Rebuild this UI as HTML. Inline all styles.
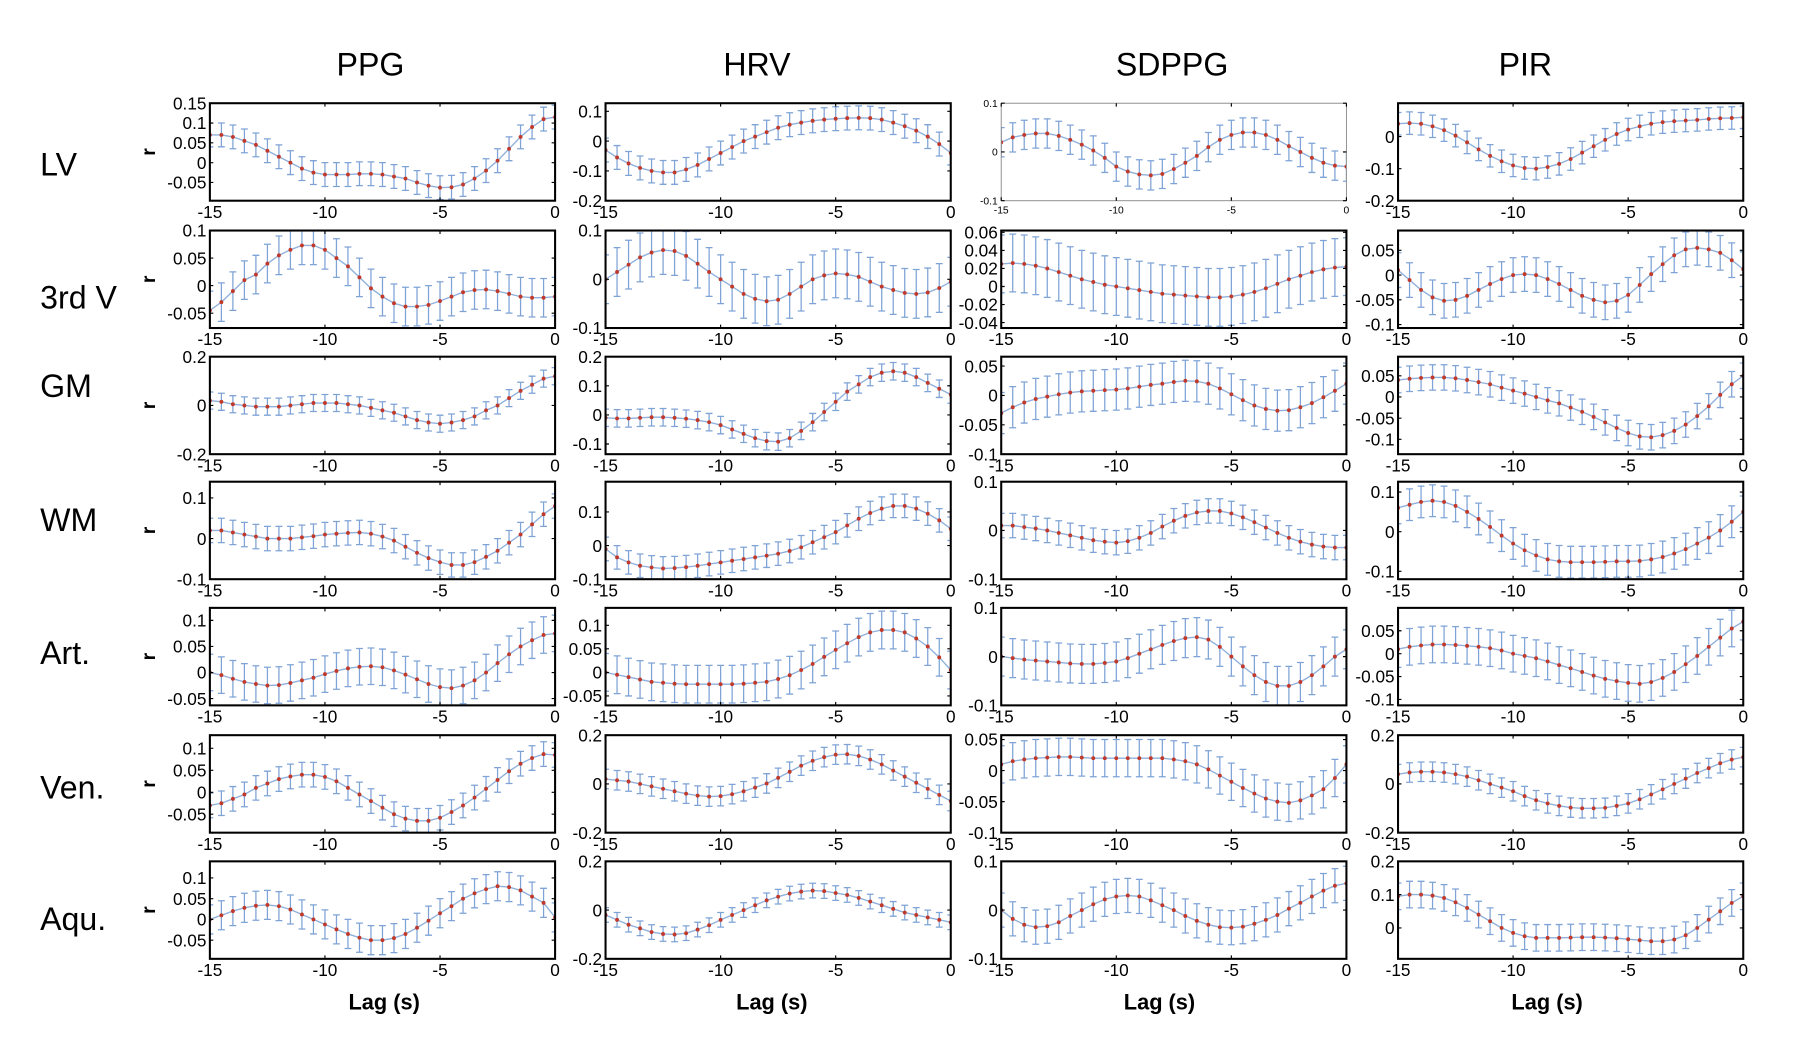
<!DOCTYPE html>
<html><head><meta charset="utf-8">
<style>
html,body{margin:0;padding:0;background:#fff;}
svg{display:block;}
text{font-family:"Liberation Sans",Arial,sans-serif;fill:#000;}
</style></head>
<body>
<svg id="fig" width="1796" height="1046" viewBox="0 0 1566 912" preserveAspectRatio="none" xmlns="http://www.w3.org/2000/svg"></svg>
<script>
const columns = ["PPG","HRV","SDPPG","PIR"];
const rows = ["LV","3rd V","GM","WM","Art.","Ven.","Aqu."];
const lagTicks = [-15,-10,-5,0];
const lags = [-15,-14.5,-14,-13.5,-13,-12.5,-12,-11.5,-11,-10.5,-10,-9.5,-9,-8.5,-8,-7.5,-7,-6.5,-6,-5.5,-5,-4.5,-4,-3.5,-3,-2.5,-2,-1.5,-1,-0.5,0];

const yRangePPG = [[-0.096,0.15],[-0.077,0.1],[-0.2,0.2],[-0.1,0.14],[-0.063,0.124],[-0.092,0.13],[-0.095,0.14]];
const yRangeHRV = [[-0.2,0.127],[-0.1,0.1],[-0.135,0.2],[-0.1,0.19],[-0.07,0.137],[-0.2,0.2],[-0.2,0.2]];
const yRangeSDPPG = [[-0.1,0.1],[-0.046,0.062],[-0.1,0.066],[-0.1,0.1],[-0.1,0.1],[-0.1,0.057],[-0.1,0.1]];
const yRangePIR = [[-0.2,0.104],[-0.107,0.09],[-0.135,0.095],[-0.12,0.126],[-0.113,0.1],[-0.2,0.2],[-0.093,0.2]];

const yTicksPPG = [[0.15,0.1,0.05,0,-0.05],[0.1,0.05,0,-0.05],[0.2,0,-0.2],[0.1,0,-0.1],[0.1,0.05,0,-0.05],[0.1,0.05,0,-0.05],[0.1,0.05,0,-0.05]];
const yTicksHRV = [[0.1,0,-0.1,-0.2],[0.1,0,-0.1],[0.2,0.1,0,-0.1],[0.1,0,-0.1],[0.1,0.05,0,-0.05],[0.2,0,-0.2],[0.2,0,-0.2]];
const yTicksSDPPG = [[0.1,0,-0.1],[0.06,0.04,0.02,0,-0.02,-0.04],[0.05,0,-0.05,-0.1],[0.1,0,-0.1],[0.1,0,-0.1],[0.05,0,-0.05,-0.1],[0.1,0,-0.1]];
const yTicksPIR = [[0,-0.1,-0.2],[0.05,0,-0.05,-0.1],[0.05,0,-0.05,-0.1],[0.1,0,-0.1],[0.05,0,-0.05,-0.1],[0.2,0,-0.2],[0.2,0.1,0]];

const ppgMeans = [
[0.07,0.07,0.065,0.055,0.045,0.03,0.015,0,-0.015,-0.025,-0.03,-0.03,-0.03,-0.028,-0.028,-0.03,-0.035,-0.04,-0.05,-0.058,-0.063,-0.062,-0.055,-0.04,-0.02,0.005,0.035,0.065,0.09,0.11,0.115],
[-0.045,-0.03,-0.01,0.01,0.02,0.04,0.055,0.065,0.073,0.073,0.065,0.05,0.035,0.015,-0.005,-0.02,-0.032,-0.038,-0.038,-0.035,-0.028,-0.02,-0.012,-0.008,-0.007,-0.01,-0.015,-0.02,-0.022,-0.022,-0.02],
[0.02,0.015,0.005,0,-0.005,-0.005,-0.005,0,0.005,0.01,0.01,0.01,0.005,0,-0.01,-0.02,-0.03,-0.045,-0.06,-0.07,-0.075,-0.07,-0.06,-0.045,-0.02,0,0.03,0.06,0.085,0.11,0.12],
[0.02,0.02,0.015,0.01,0.005,0,0,0,0.003,0.006,0.01,0.012,0.014,0.015,0.012,0.005,-0.005,-0.02,-0.035,-0.048,-0.058,-0.065,-0.065,-0.058,-0.045,-0.03,-0.01,0.01,0.035,0.06,0.08],
[0,-0.005,-0.012,-0.018,-0.022,-0.025,-0.024,-0.02,-0.015,-0.01,-0.003,0.003,0.008,0.011,0.012,0.01,0.004,-0.004,-0.013,-0.022,-0.028,-0.03,-0.025,-0.015,0,0.018,0.035,0.05,0.062,0.072,0.075],
[-0.03,-0.025,-0.015,-0.005,0.01,0.02,0.03,0.036,0.04,0.04,0.035,0.025,0.01,-0.005,-0.02,-0.035,-0.05,-0.06,-0.065,-0.065,-0.058,-0.045,-0.03,-0.012,0.008,0.028,0.048,0.065,0.078,0.087,0.085],
[0,0.01,0.02,0.028,0.033,0.035,0.032,0.024,0.012,0,-0.012,-0.024,-0.035,-0.044,-0.05,-0.05,-0.045,-0.035,-0.02,-0.003,0.015,0.032,0.05,0.063,0.073,0.08,0.078,0.07,0.055,0.04,0.005]];
const hrvMeans = [
[-0.03,-0.055,-0.075,-0.09,-0.1,-0.105,-0.105,-0.095,-0.08,-0.06,-0.04,-0.02,0,0.015,0.03,0.045,0.055,0.062,0.068,0.072,0.075,0.077,0.078,0.077,0.072,0.062,0.05,0.035,0.015,-0.01,-0.04],
[0,0.015,0.03,0.045,0.055,0.06,0.058,0.048,0.032,0.015,0,-0.015,-0.03,-0.04,-0.045,-0.042,-0.03,-0.015,0,0.008,0.012,0.01,0.005,-0.005,-0.015,-0.022,-0.028,-0.03,-0.027,-0.018,-0.005],
[-0.01,-0.012,-0.012,-0.01,-0.008,-0.008,-0.01,-0.013,-0.018,-0.025,-0.035,-0.05,-0.065,-0.08,-0.09,-0.092,-0.08,-0.055,-0.025,0.01,0.045,0.08,0.105,0.13,0.145,0.15,0.145,0.13,0.11,0.09,0.07],
[-0.01,-0.035,-0.05,-0.06,-0.065,-0.068,-0.067,-0.064,-0.06,-0.055,-0.05,-0.045,-0.04,-0.035,-0.03,-0.024,-0.016,-0.005,0.01,0.025,0.04,0.06,0.08,0.097,0.11,0.118,0.118,0.11,0.095,0.075,0.05],
[0,-0.005,-0.01,-0.015,-0.02,-0.022,-0.024,-0.025,-0.025,-0.025,-0.025,-0.025,-0.024,-0.022,-0.02,-0.014,-0.006,0.005,0.018,0.033,0.048,0.062,0.075,0.085,0.09,0.09,0.085,0.072,0.055,0.032,0.005],
[0.02,0.015,0.01,0,-0.01,-0.02,-0.03,-0.04,-0.048,-0.052,-0.05,-0.042,-0.03,-0.015,0.002,0.025,0.05,0.075,0.095,0.11,0.12,0.122,0.115,0.1,0.08,0.055,0.03,0.005,-0.02,-0.045,-0.07],
[-0.02,-0.04,-0.06,-0.075,-0.09,-0.098,-0.1,-0.095,-0.08,-0.062,-0.04,-0.02,0,0.02,0.04,0.055,0.068,0.076,0.08,0.078,0.07,0.062,0.05,0.035,0.02,0.005,-0.01,-0.02,-0.03,-0.04,-0.05]];
const sdppgMeans = [
[0.02,0.03,0.035,0.038,0.038,0.033,0.025,0.015,0.003,-0.012,-0.03,-0.04,-0.046,-0.048,-0.045,-0.035,-0.022,-0.008,0.01,0.025,0.035,0.04,0.04,0.035,0.025,0.012,0,-0.012,-0.022,-0.028,-0.03],
[0.025,0.026,0.025,0.023,0.02,0.016,0.012,0.008,0.005,0.002,0,-0.002,-0.004,-0.006,-0.008,-0.009,-0.01,-0.011,-0.012,-0.012,-0.011,-0.009,-0.006,-0.002,0.003,0.008,0.012,0.016,0.019,0.021,0.022],
[-0.03,-0.02,-0.012,-0.006,-0.002,0.002,0.005,0.007,0.008,0.009,0.01,0.012,0.015,0.018,0.02,0.023,0.025,0.024,0.02,0.012,0.002,-0.008,-0.017,-0.023,-0.026,-0.025,-0.02,-0.013,-0.003,0.008,0.02],
[0.01,0.01,0.007,0.004,0,-0.005,-0.01,-0.015,-0.02,-0.023,-0.025,-0.022,-0.015,-0.005,0.008,0.02,0.03,0.037,0.04,0.04,0.035,0.027,0.017,0.006,-0.005,-0.015,-0.023,-0.029,-0.033,-0.035,-0.035],
[0,-0.003,-0.006,-0.008,-0.01,-0.012,-0.014,-0.015,-0.015,-0.013,-0.01,-0.003,0.006,0.015,0.024,0.032,0.038,0.04,0.035,0.02,0,-0.02,-0.038,-0.052,-0.06,-0.06,-0.052,-0.038,-0.02,0,0.015],
[0.01,0.015,0.018,0.02,0.021,0.022,0.022,0.021,0.02,0.02,0.02,0.02,0.02,0.02,0.02,0.018,0.015,0.01,0.002,-0.008,-0.018,-0.028,-0.037,-0.045,-0.05,-0.052,-0.048,-0.04,-0.03,-0.012,0.01],
[0,-0.018,-0.03,-0.035,-0.033,-0.025,-0.012,0,0.012,0.022,0.028,0.03,0.028,0.02,0.01,0,-0.012,-0.022,-0.03,-0.035,-0.036,-0.034,-0.028,-0.02,-0.01,0.003,0.015,0.028,0.04,0.05,0.055]];
const pirMeans = [
[0.04,0.042,0.04,0.032,0.02,0.003,-0.018,-0.04,-0.06,-0.077,-0.09,-0.098,-0.1,-0.095,-0.085,-0.07,-0.05,-0.03,-0.01,0.008,0.022,0.032,0.04,0.045,0.048,0.05,0.052,0.055,0.057,0.058,0.06],
[0.01,-0.01,-0.03,-0.045,-0.052,-0.05,-0.042,-0.03,-0.018,-0.008,0,0.002,0,-0.008,-0.018,-0.03,-0.042,-0.05,-0.055,-0.052,-0.04,-0.02,0.002,0.022,0.04,0.052,0.055,0.052,0.045,0.03,0.012],
[0.04,0.043,0.045,0.046,0.046,0.044,0.04,0.035,0.03,0.022,0.015,0.008,0,-0.008,-0.015,-0.025,-0.035,-0.047,-0.06,-0.073,-0.085,-0.093,-0.095,-0.09,-0.08,-0.065,-0.045,-0.022,0.005,0.03,0.05],
[0.06,0.068,0.075,0.078,0.075,0.065,0.05,0.032,0.012,-0.01,-0.03,-0.047,-0.06,-0.07,-0.075,-0.077,-0.077,-0.077,-0.076,-0.075,-0.075,-0.074,-0.07,-0.064,-0.055,-0.044,-0.03,-0.015,0.003,0.025,0.05],
[0.01,0.015,0.018,0.02,0.02,0.019,0.017,0.015,0.012,0.007,0,-0.005,-0.01,-0.017,-0.025,-0.032,-0.04,-0.048,-0.055,-0.06,-0.064,-0.066,-0.062,-0.053,-0.04,-0.023,-0.005,0.015,0.035,0.055,0.07],
[0.04,0.047,0.05,0.05,0.047,0.04,0.03,0.015,0,-0.015,-0.03,-0.05,-0.067,-0.08,-0.09,-0.097,-0.1,-0.1,-0.098,-0.09,-0.08,-0.063,-0.043,-0.022,0,0.022,0.045,0.065,0.085,0.1,0.11],
[0.095,0.1,0.1,0.097,0.09,0.077,0.06,0.04,0.02,0,-0.015,-0.025,-0.03,-0.03,-0.03,-0.029,-0.028,-0.028,-0.029,-0.031,-0.034,-0.037,-0.04,-0.04,-0.035,-0.022,0,0.025,0.05,0.075,0.095]];

const ppgErr = [0.03,0.035,0.035,0.03,0.035,0.028,0.035];
const hrvErr = [0.04,0.05,0.03,0.035,0.04,0.04,0.03];
const sdppgErr = [0.03,0.032,0.035,0.025,0.04,0.03,0.035];
const pirErr = [0.035,0.035,0.03,0.04,0.04,0.04,0.04];

const NS = "http://www.w3.org/2000/svg";
const svg = document.getElementById("fig");
function mk(tag, attrs, parent){const e=document.createElementNS(NS,tag);for(const k in attrs)e.setAttribute(k,attrs[k]);(parent||svg).appendChild(e);return e;}

const colX = [183,528,873,1219];
const rowY = [90,201,311,420,530,641,751];
const W = 301, H = 85;
const titleX = [323,660,1022,1330];
const lagLabelX = [335,673,1011,1349];
const allMeans=[ppgMeans,hrvMeans,sdppgMeans,pirMeans];
const allErr=[ppgErr,hrvErr,sdppgErr,pirErr];
const allRanges=[yRangePPG,yRangeHRV,yRangeSDPPG,yRangePIR];
const allTicks=[yTicksPPG,yTicksHRV,yTicksSDPPG,yTicksPIR];

columns.forEach((c,ci)=>{
  const t=mk("text",{x:titleX[ci],y:66,"font-size":28,"text-anchor":"middle"});
  t.textContent=c;
  
  
});
const rowLabelY=[153,269,346,463,579,696,811];
rows.forEach((r,ri)=>{
  const t=mk("text",{x:35,y:rowLabelY[ri],"font-size":28});
  t.textContent=r;
  
  
});

for(let ci=0;ci<4;ci++){
  for(let ri=0;ri<7;ri++){
    const x0=colX[ci], y0=rowY[ri];
    const small = (ci===2 && ri===0);
    const fs = small?9:15;
    const [ymin,ymax]=allRanges[ci][ri];
    const X = v => x0 + (v+15)/15*W;
    const Y = v => y0 + H - (v-ymin)/(ymax-ymin)*H;
    const g=mk("g",{});
    
    
    const cid="clip"+ci+"_"+ri;
    const cp=mk("clipPath",{id:cid},g); mk("rect",{x:x0,y:y0,width:W,height:H},cp);
    const data=mk("g",{"clip-path":"url(#"+cid+")"},g);
    const means=allMeans[ci][ri], err=allErr[ci][ri];
    lags.forEach((l,i)=>{
      const px=X(l), yt=Y(means[i]+err), yb=Y(means[i]-err);
      const eb=mk("path",{d:`M${px},${yt}V${yb}M${px-3},${yt}H${px+3}M${px-3},${yb}H${px+3}`,stroke:"#7fa3d6","stroke-width":1.1,fill:"none"},data);
      
      
    });
    const pl=mk("polyline",{points:lags.map((l,i)=>X(l)+","+Y(means[i])).join(" "),stroke:"#8fb0dc","stroke-width":1.2,fill:"none"},data);
    
    
    lags.forEach((l,i)=>{
      const d=mk("circle",{cx:X(l),cy:Y(means[i]),r:1.7,fill:"#c0392b"},data);
      
      
    });
    const bx=mk("rect",{x:x0,y:y0,width:W,height:H,fill:"none",stroke:small?"#888":"#000","stroke-width":small?0.8:1.8},g);
    
    
    lagTicks.forEach(v=>{
      const px=X(v);
      mk("path",{d:`M${px},${y0+H}v-3M${px},${y0}v3`,stroke:"#000","stroke-width":1},g);
      const t=mk("text",{x:px,y:y0+H+(small?11:15),"font-size":fs,"text-anchor":"middle"},g);
      t.textContent=String(v);
      
      
    });
    allTicks[ci][ri].forEach(v=>{
      const py=Y(v);
      mk("path",{d:`M${x0},${py}h3M${x0+W},${py}h-3`,stroke:"#000","stroke-width":1},g);
      const t=mk("text",{x:x0-3,y:py+fs*0.36,"font-size":fs,"text-anchor":"end"},g);
      t.textContent=String(v);
      
      
    });
    if(ci===0){
      const t=mk("text",{x:0,y:0,"font-size":17,"font-weight":"bold","text-anchor":"middle",transform:`translate(${x0-48},${y0+H/2}) rotate(-90)`},g);
      t.textContent="r";
      
      
    }
    if(ri===6){
      const t=mk("text",{x:lagLabelX[ci],y:y0+H+44,"font-size":19,"font-weight":"bold","text-anchor":"middle"},g);
      t.textContent="Lag (s)";
      
      
    }
  }
}
</script>
</body></html>
